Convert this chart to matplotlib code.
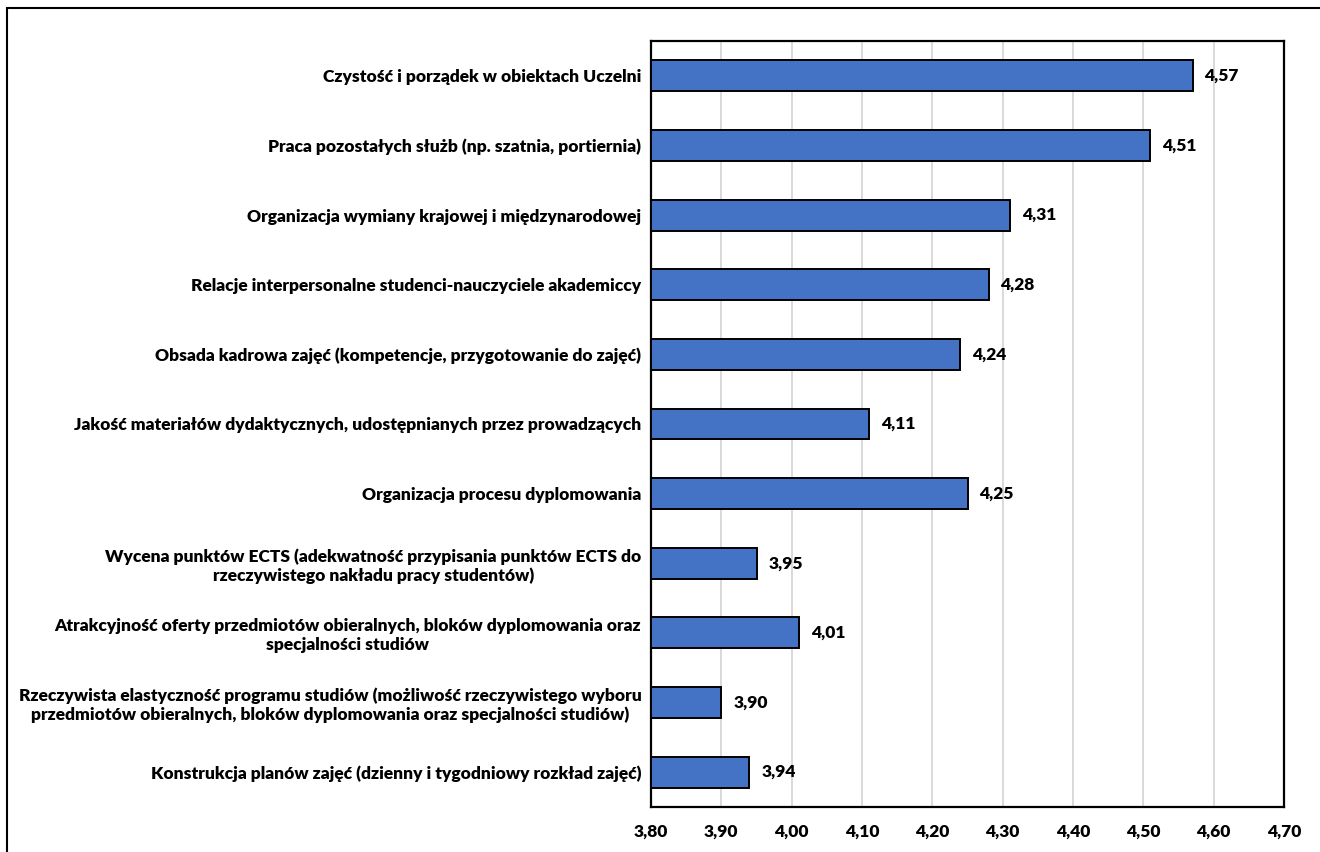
import matplotlib
matplotlib.use("Agg")
import matplotlib.pyplot as plt
from matplotlib.patches import Rectangle
from matplotlib.ticker import FuncFormatter

plt.rcParams['font.family'] = ['Lato', 'DejaVu Sans']
plt.rcParams['font.weight'] = 'heavy'

kategorie = [
    "Czystość i porządek w obiektach Uczelni",
    "Praca pozostałych służb (np. szatnia, portiernia)",
    "Organizacja wymiany krajowej i międzynarodowej",
    "Relacje interpersonalne studenci-nauczyciele akademiccy",
    "Obsada kadrowa zajęć (kompetencje, przygotowanie do zajęć)",
    "Jakość materiałów dydaktycznych, udostępnianych przez prowadzących",
    "Organizacja procesu dyplomowania",
    "Wycena punktów ECTS (adekwatność przypisania punktów ECTS do\nrzeczywistego nakładu pracy studentów)",
    "Atrakcyjność oferty przedmiotów obieralnych, bloków dyplomowania oraz\nspecjalności studiów",
    "Rzeczywista elastyczność programu studiów (możliwość rzeczywistego wyboru\nprzedmiotów obieralnych, bloków dyplomowania oraz specjalności studiów)",
    "Konstrukcja planów zajęć (dzienny i tygodniowy rozkład zajęć)",
]
oceny = [4.57, 4.51, 4.31, 4.28, 4.24, 4.11, 4.25, 3.95, 4.01, 3.90, 3.94]
ticki = [3.80, 3.90, 4.00, 4.10, 4.20, 4.30, 4.40, 4.50, 4.60, 4.70]

fig = plt.figure(figsize=(13.2, 8.52), dpi=100)
ax = fig.add_axes([651/1320, 1-807/852, (1284-651)/1320, (807-41)/852])

y = range(len(kategorie))
ax.barh(y, [v - 3.8 for v in oceny], left=3.8, height=0.445, color='#4472C4',
        edgecolor='black', linewidth=1.4, zorder=3)
for i, v in enumerate(oceny):
    ax.text(v + 0.017, i, f"{v:.2f}".replace('.', ','), va='center', ha='left',
            fontsize=12.5)

ax.set_xlim(3.8, 4.7)
ax.set_ylim(len(kategorie) - 0.5, -0.5)
ax.set_xticks(ticki)
ax.xaxis.set_major_formatter(FuncFormatter(lambda v, p: f"{v:.2f}".replace('.', ',')))
ax.set_yticks(list(y))
ax.set_yticklabels(kategorie, multialignment='center')
ax.tick_params(axis='both', length=0, labelsize=12.5)
ax.tick_params(axis='y', pad=7)
ax.tick_params(axis='x', pad=12)
ax.grid(axis='x', color='#d9d9d9', linewidth=1.4, zorder=0)
for s in ax.spines.values():
    s.set_linewidth(1.6)
    s.set_color('black')

# ramka wykresu
fig.patches.append(Rectangle((7/1320, -0.05), 1.1, 1 - 8/852 + 0.05, transform=fig.transFigure,
                             fill=False, edgecolor='black', linewidth=1.5))

fig.savefig("out.png", dpi=100)
